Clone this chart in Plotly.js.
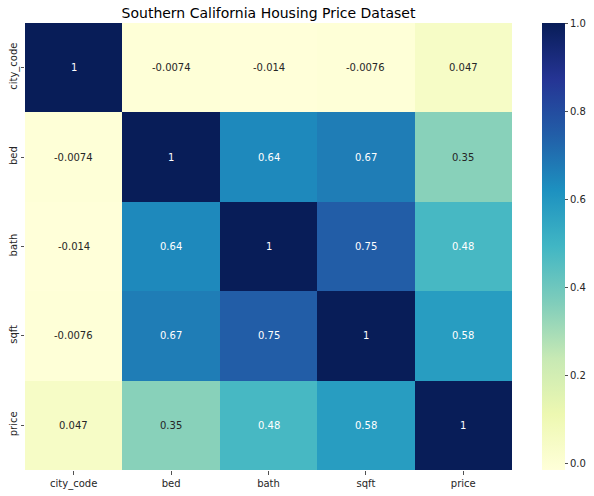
<!DOCTYPE html>
<html>
<head>
<meta charset="utf-8">
<script src="https://cdn.plot.ly/plotly-3.0.1.min.js"></script>
<style>body{margin:0;padding:0;background:#fff;}#chart{width:594px;height:496px;}</style>
</head>
<body>
<div id="chart"></div>
<script>
const labels = ["city_code", "bed", "bath", "sqft", "price"];
const row_city_code = [1, -0.0074, -0.014, -0.0076, 0.047];
const row_bed = [-0.0074, 1, 0.64, 0.67, 0.35];
const row_bath = [-0.014, 0.64, 1, 0.75, 0.48];
const row_sqft = [-0.0076, 0.67, 0.75, 1, 0.58];
const row_price = [0.047, 0.35, 0.48, 0.58, 1];
const z = [row_city_code, row_bed, row_bath, row_sqft, row_price];
const colorTicks = [0, 0.2, 0.4, 0.6, 0.8, 1.0];

const ylgnbu = ["#ffffd9", "#edf8b1", "#c7e9b4", "#7fcdbb", "#41b6c4", "#1d91c0", "#225ea8", "#253494", "#081d58"];
const zmin = -0.014, zmax = 1;
const colorscale = ylgnbu.map((c, i) => [i / (ylgnbu.length - 1), c]);

const fmt = v => String(Number(v.toPrecision(2)));

const annotations = [];
z.forEach((row, i) => {
  row.forEach((v, j) => {
    annotations.push({
      x: labels[j], y: labels[i], xref: 'x', yref: 'y',
      text: fmt(v), showarrow: false,
      font: {family: 'DejaVu Sans', size: 10, color: v > 0.42 ? '#ffffff' : '#262626'}
    });
  });
});

const trace = {
  type: 'heatmap',
  x: labels, y: labels, z: z,
  zmin: zmin, zmax: zmax,
  colorscale: colorscale,
  xgap: 0, ygap: 0,
  hoverinfo: 'skip',
  colorbar: {
    x: (542 - 25) / 487, xanchor: 'left', xref: 'paper',
    y: 0.5, yanchor: 'middle', len: 1, lenmode: 'fraction',
    thickness: 23, thicknessmode: 'pixels',
    outlinewidth: 0,
    tickvals: colorTicks, ticktext: colorTicks.map(v => v.toFixed(1)),
    ticks: 'outside', ticklen: 3.5, tickwidth: 0.8, tickcolor: '#262626',
    tickfont: {family: 'DejaVu Sans', size: 10, color: '#262626'},
    xpad: 0, ypad: 0
  }
};

const layout = {
  width: 594, height: 496,
  margin: {l: 25, r: 82, t: 23, b: 26, pad: 0, autoexpand: false},
  paper_bgcolor: '#ffffff', plot_bgcolor: '#ffffff',
  title: {text: 'Southern California Housing Price Dataset', font: {family: 'DejaVu Sans', size: 14, color: '#000000'},
          x: (25 + 487 / 2) / 594, xanchor: 'center', y: 1 - 13 / 496, yanchor: 'middle'},
  xaxis: {type: 'category', showgrid: false, zeroline: false, showline: false, automargin: false,
          ticks: 'outside', ticklen: 3.5, tickwidth: 0.8, tickcolor: '#262626',
          tickfont: {family: 'DejaVu Sans', size: 10, color: '#262626'}, fixedrange: true},
  yaxis: {type: 'category', autorange: 'reversed', showgrid: false, zeroline: false, showline: false, automargin: false,
          ticks: 'outside', ticklen: 3.5, tickwidth: 0.8, tickcolor: '#262626', tickangle: -90,
          tickfont: {family: 'DejaVu Sans', size: 10, color: '#262626'}, fixedrange: true},
  annotations: annotations,
  showlegend: false
};

Plotly.newPlot('chart', [trace], layout, {displayModeBar: false, staticPlot: true});
</script>
</body>
</html>
